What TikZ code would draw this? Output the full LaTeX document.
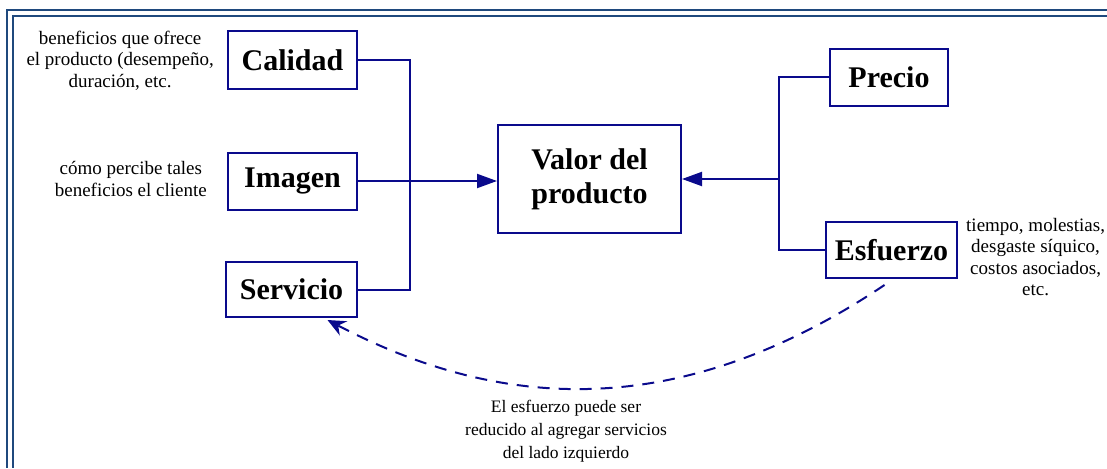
\documentclass[tikz,border=0pt]{standalone}
\usepackage{fontspec}
\setmainfont{Liberation Serif}
\usetikzlibrary{positioning,arrows.meta}
\definecolor{navy}{RGB}{10,10,140}
\definecolor{framecol}{RGB}{31,73,125}

\begin{document}
\begin{tikzpicture}[
    x=1pt, y=-1pt,
    box/.style={%
      draw=navy,
      line width=2pt,
      rectangle,
      fill=white,
      inner xsep=6pt,
      align=center,
      font=\bfseries\fontsize{30}{34}\selectfont,
    },
    note/.style={%
      inner sep=0pt,
      align=center,
      font=\fontsize{19}{21.5}\selectfont,
    },
    link/.style={%
      draw=navy,
      line width=2pt,
    },
    frameline/.style={%
      draw=framecol,
      line width=2.6pt,
    },
  ]

    \useasboundingbox (0,0) rectangle (1107,468);
    \draw [frameline] (1107,10) -- (7,10) -- (7,468);
    \draw [frameline] (1107,16) -- (13,16) -- (13,468);

    \node [box, minimum width=183pt, minimum height=108pt] (val) at (589.5,179) {Valor del\\producto};
    \path (val) ++(-297,-118.5) node [box, minimum width=129pt, minimum height=58pt] (cal) {Calidad};
    \path (val) ++(-297,2) node [box, minimum width=129pt, minimum height=57pt] (img) {Imagen};
    \path (val) ++(-298,110.5) node [box, minimum width=131pt, minimum height=55pt] (serv) {Servicio};
    \path (val) ++(299.5,-101.5) node [box, minimum width=118pt, minimum height=57pt] (prec) {Precio};
    \path (val) ++(302,71) node [box, minimum width=131pt, minimum height=56pt] (esf) {Esfuerzo};

    \node [note, left=13pt of cal] (calnote) {beneficios que ofrece\\el producto (desempeño,\\duración, etc.};
    \node [note, left=20pt of img, yshift=2pt] (imgnote) {cómo percibe tales\\beneficios el cliente};
    \node [note, right=8pt of esf, yshift=-7pt] (esfnote) {tiempo, molestias,\\desgaste síquico,\\costos asociados,\\etc.};
    \node [note, font=\fontsize{17.5}{23}\selectfont] (reduce) at (566,431) {El esfuerzo puede ser\\reducido al agregar servicios\\del lado izquierdo};

    \path (prec.west) ++(-50,0) coordinate (rtop);
    \draw [link] (cal.east) -- ++(52,0) |- (serv.east);
    \draw [link, -{Triangle[length=20pt,width=14pt]}] (img.east) -- (val.west |- img.east);
    \draw [link] (prec.west) -- (rtop) |- (esf.west);
    \draw [link, -{Triangle[length=20pt,width=14pt]}] (rtop |- val) -- (val.east);
    \draw [link, dash pattern=on 12pt off 9pt, -{Stealth[length=18pt,width=16pt,inset=6pt]}]
      ([shift={(-7,6)}]esf.south) .. controls (668,430) and (488,404) .. ([shift={(36,2)}]serv.south);
\end{tikzpicture}
\end{document}
